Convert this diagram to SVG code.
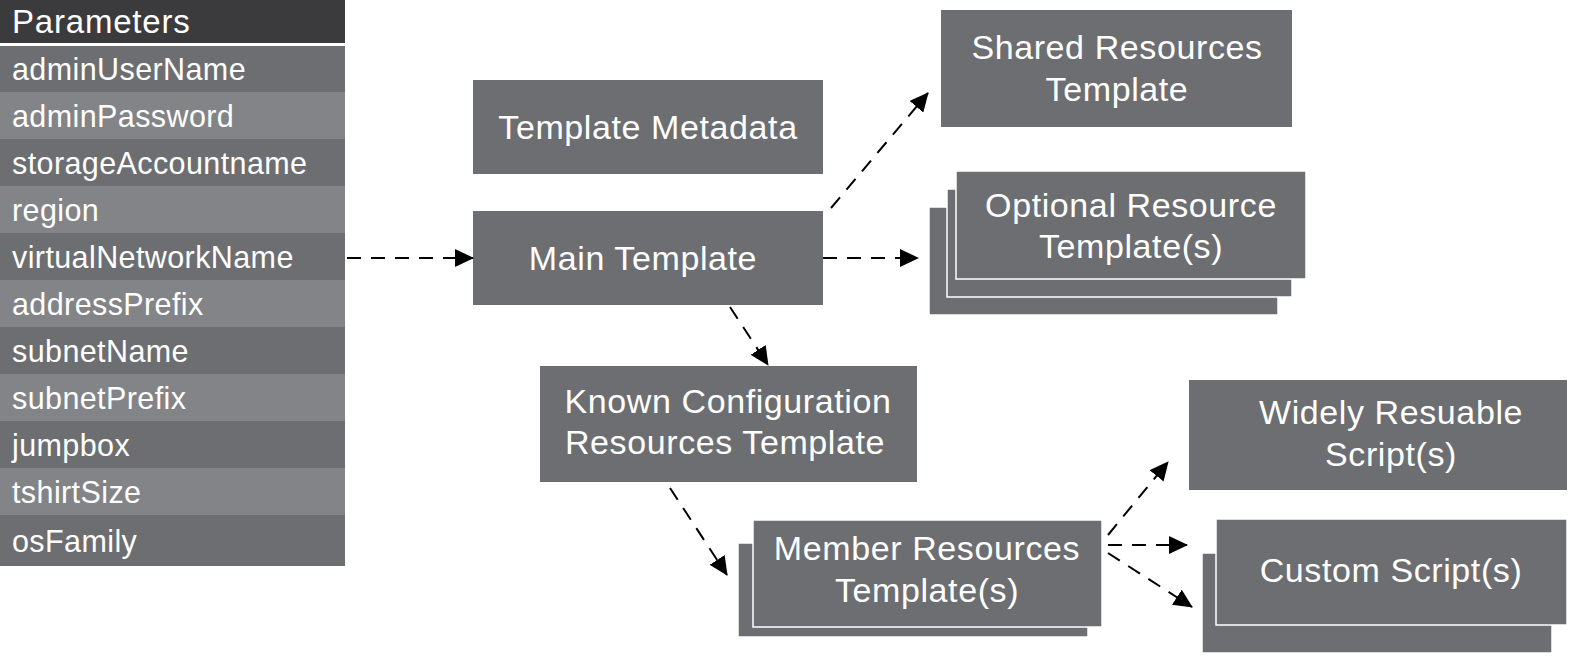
<svg xmlns="http://www.w3.org/2000/svg" width="1577" height="658" viewBox="0 0 1577 658">
<defs>
<marker id="ah" markerUnits="userSpaceOnUse" markerWidth="20" markerHeight="18" refX="18" refY="9" orient="auto">
<path d="M0,0 L19,9 L0,18 Z" fill="#000"/>
</marker>
<style>
.box{fill:#6d6e71}
.fr{fill:#6d6e71;stroke:#fff;stroke-width:1.5}
.lt{fill:#838487}
.t{font-family:"Liberation Sans",Arial,sans-serif;font-size:34px;fill:#fff;letter-spacing:0.6px;text-anchor:middle}
.p{font-family:"Liberation Sans",Arial,sans-serif;font-size:30.5px;fill:#fff;letter-spacing:0.4px}
.c{fill:none;stroke:#000;stroke-width:2;stroke-dasharray:14 10;marker-end:url(#ah)}
</style>
</defs>
<rect width="1577" height="658" fill="#fff"/>
<g id="parameters">
<rect x="0" y="0" width="345" height="43" fill="#3b3b3d"/>
<text class="p" x="12" y="33" style="font-size:33px;letter-spacing:0.8px">Parameters</text>
<rect class="box" x="0" y="46" width="345" height="46"/>
<rect class="lt" x="0" y="92" width="345" height="47"/>
<rect class="box" x="0" y="139" width="345" height="47"/>
<rect class="lt" x="0" y="186" width="345" height="47"/>
<rect class="box" x="0" y="233" width="345" height="47"/>
<rect class="lt" x="0" y="280" width="345" height="47"/>
<rect class="box" x="0" y="327" width="345" height="47"/>
<rect class="lt" x="0" y="374" width="345" height="47"/>
<rect class="box" x="0" y="421" width="345" height="47"/>
<rect class="lt" x="0" y="468" width="345" height="47"/>
<rect class="box" x="0" y="515" width="345" height="51"/>
<text class="p" x="12" y="80">adminUserName</text>
<text class="p" x="12" y="127">adminPassword</text>
<text class="p" x="12" y="174">storageAccountname</text>
<text class="p" x="12" y="221">region</text>
<text class="p" x="12" y="268">virtualNetworkName</text>
<text class="p" x="12" y="315">addressPrefix</text>
<text class="p" x="12" y="362">subnetName</text>
<text class="p" x="12" y="409">subnetPrefix</text>
<text class="p" x="12" y="456">jumpbox</text>
<text class="p" x="12" y="503">tshirtSize</text>
<text class="p" x="12" y="552">osFamily</text>
</g>
<g id="template-metadata">
<rect class="box" x="473" y="80" width="350" height="94"/>
<text class="t" x="648" y="139">Template Metadata</text>
</g>
<g id="main-template">
<rect class="box" x="473" y="211" width="350" height="94"/>
<text class="t" x="643" y="270">Main Template</text>
</g>
<g id="shared-resources">
<rect class="box" x="941" y="10" width="351" height="117"/>
<text class="t" x="1117" y="59">Shared Resources</text>
<text class="t" x="1117" y="101">Template</text>
</g>
<g id="optional-resources">
<rect class="fr" x="929" y="207" width="349" height="108"/>
<rect class="fr" x="947" y="189" width="345" height="108"/>
<rect class="fr" x="956" y="171" width="350" height="108"/>
<text class="t" x="1131" y="217">Optional Resource</text>
<text class="t" x="1131" y="258">Template(s)</text>
</g>
<g id="known-config">
<rect class="box" x="540" y="366" width="377" height="116"/>
<text class="t" x="728" y="413">Known Configuration</text>
<text class="t" x="725" y="454">Resources Template</text>
</g>
<g id="member-resources">
<rect class="fr" x="738" y="543" width="350" height="94"/>
<rect class="fr" x="753" y="520" width="349" height="107"/>
<text class="t" x="927" y="560">Member Resources</text>
<text class="t" x="927" y="602">Template(s)</text>
</g>
<g id="widely-reusable">
<rect class="box" x="1189" y="380" width="378" height="110"/>
<text class="t" x="1391" y="424">Widely Resuable</text>
<text class="t" x="1391" y="466">Script(s)</text>
</g>
<g id="custom-scripts">
<rect class="fr" x="1202" y="553" width="350" height="100"/>
<rect class="fr" x="1216" y="519" width="351" height="106"/>
<text class="t" x="1391" y="582">Custom Script(s)</text>
</g>
<g id="connectors">
<path class="c" d="M347,258 L473,258"/>
<path class="c" d="M831,208 L928,93"/>
<path class="c" d="M823,258 L918,258"/>
<path class="c" d="M730,307 L768,365"/>
<path class="c" d="M670,488 L727,575"/>
<path class="c" d="M1108,535 L1168,462"/>
<path class="c" d="M1108,545 L1187,545"/>
<path class="c" d="M1108,553 L1192,607"/>
</g>
</svg>
